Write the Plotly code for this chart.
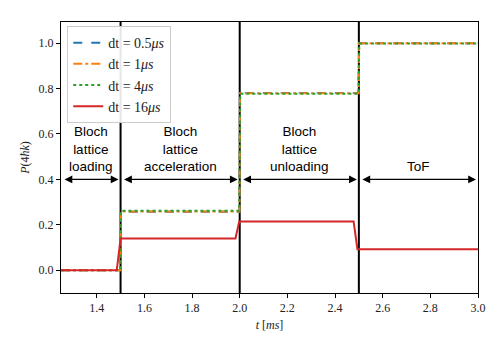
import plotly.graph_objects as go

# ---- data ----
t_05 = [1.25, 1.499, 1.501, 1.999, 2.001, 2.499, 2.501, 3.0]
p_05 = [0.0, 0.0, 0.258, 0.258, 0.780, 0.780, 1.0, 1.0]
t_1 = [1.25, 1.499, 1.501, 1.999, 2.001, 2.499, 2.501, 3.0]
p_1 = [0.0, 0.0, 0.259, 0.259, 0.779, 0.779, 0.999, 0.999]
t_4 = [1.25, 1.498, 1.502, 1.998, 2.002, 2.498, 2.502, 3.0]
p_4 = [0.0, 0.0, 0.262, 0.262, 0.777, 0.777, 0.998, 0.998]
t_16 = [1.25, 1.484, 1.500, 1.982, 1.998, 2.478, 2.494, 3.0]
p_16 = [0.0, 0.0, 0.140, 0.140, 0.215, 0.215, 0.093, 0.093]

series_names = ["dt = 0.5<i>μs</i>", "dt = 1<i>μs</i>", "dt = 4<i>μs</i>", "dt = 16<i>μs</i>"]
phase_bounds = [1.25, 1.5, 2.0, 2.5, 3.0]
phase_labels = ["Bloch<br>lattice<br>loading", "Bloch<br>lattice<br>acceleration",
                "Bloch<br>lattice<br>unloading", "ToF"]
arrow_level = 0.4
x_ticks = [1.4, 1.6, 1.8, 2.0, 2.2, 2.4, 2.6, 2.8, 3.0]
y_ticks = [0.0, 0.2, 0.4, 0.6, 0.8, 1.0]

fig = go.Figure()
styles = [("#1f77b4", "dash"), ("#ff7f0e", "dashdot"), ("#2ca02c", "dot"), ("#d62728", "solid")]
for (t, p), name, (c, d) in zip([(t_05, p_05), (t_1, p_1), (t_4, p_4), (t_16, p_16)], series_names, styles):
    fig.add_trace(go.Scatter(x=t, y=p, mode="lines", name=name,
                             line=dict(color=c, dash=d, width=2)))

for b in phase_bounds[1:-1]:
    fig.add_shape(type="line", x0=b, x1=b, y0=0, y1=1, xref="x", yref="paper",
                  line=dict(color="black", width=2), layer="below")

for i, lab in enumerate(phase_labels):
    a, b = phase_bounds[i], phase_bounds[i + 1]
    fig.add_annotation(x=b, y=arrow_level, ax=a, ay=arrow_level, xref="x", yref="y",
                       axref="x", ayref="y", text="", showarrow=True, arrowside="end+start",
                       arrowhead=2, startarrowhead=2, arrowwidth=1.3, arrowsize=1.2,
                       startarrowsize=1.2, arrowcolor="black", standoff=2, startstandoff=2)
    fig.add_annotation(x=(a + b) / 2, y=arrow_level, xref="x", yref="y", text=lab,
                       showarrow=False, yanchor="bottom", yshift=3,
                       font=dict(family="Liberation Sans, Arial, sans-serif", size=13.5, color="black"))

axis_common = dict(showline=True, linecolor="black", linewidth=1, mirror=True,
                   ticks="outside", ticklen=4, tickwidth=1, tickcolor="black",
                   showgrid=False, zeroline=False,
                   tickfont=dict(family="Liberation Serif, serif", size=12, color="#222"))
fig.update_xaxes(range=[1.25, 3.0], tickvals=x_ticks, ticktext=[f"{v:.1f}" for v in x_ticks],
                 title=dict(text="<i>t</i> [<i>ms</i>]", standoff=6,
                            font=dict(family="Liberation Serif, serif", size=12, color="#222")),
                 **axis_common)
fig.update_yaxes(range=[-0.1, 1.093], tickvals=y_ticks, ticktext=[f"{v:.1f}" for v in y_ticks],
                 title=dict(text="<i>P</i>(4<i>ħk</i>)", standoff=6,
                            font=dict(family="Liberation Serif, serif", size=12, color="#222")),
                 **axis_common)

# page body adds an 8px offset, so the figure is sized 492x342 with margins compensated
fig.update_layout(
    width=492, height=342,
    margin=dict(l=53, r=22, t=14, b=57),
    plot_bgcolor="white", paper_bgcolor="white",
    showlegend=True,
    legend=dict(x=0.015, y=0.985, xanchor="left", yanchor="top",
                bgcolor="rgba(255,255,255,0.9)", bordercolor="#cccccc", borderwidth=1,
                font=dict(family="Liberation Serif, serif", size=14, color="#222"),
                tracegroupgap=0, itemwidth=30),
)

fig.write_html("out.html")
